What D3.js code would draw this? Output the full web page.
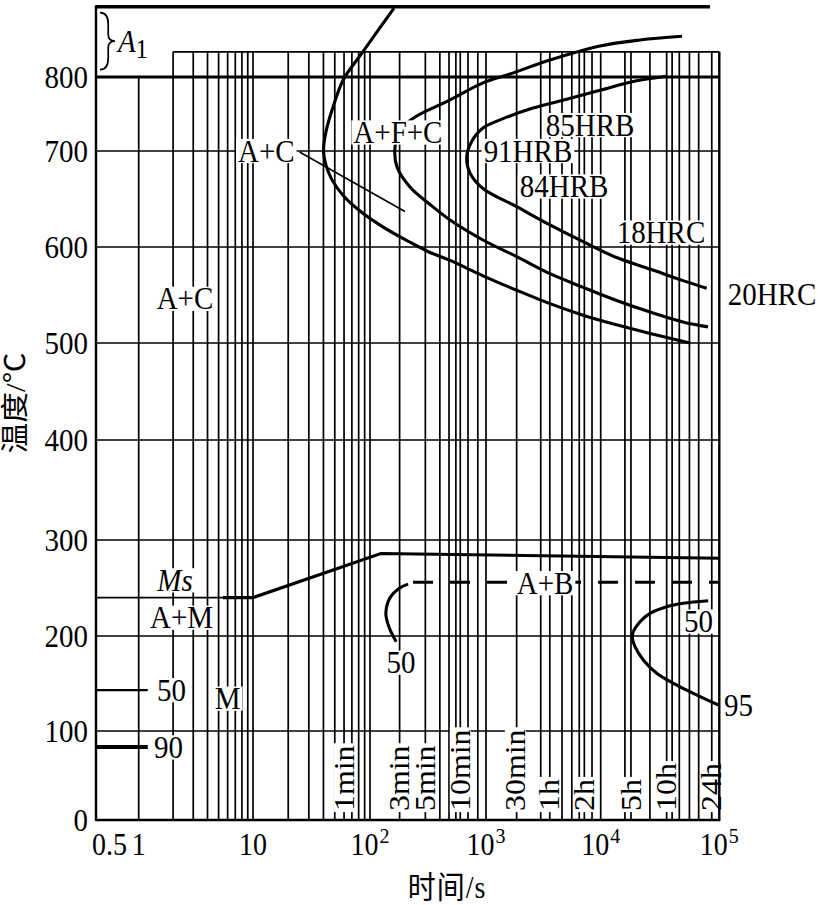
<!DOCTYPE html>
<html><head><meta charset="utf-8">
<script src="https://cdn.jsdelivr.net/npm/d3@7"></script>
<style>
body{margin:0;background:#fff;}
svg{display:block;}
text{font-family:"Liberation Serif","Times New Roman","Noto Sans CJK SC",serif;fill:#000;}
</style>
</head><body>
<svg id="chart" width="818" height="905"></svg>
<script>
// ---------------- DATA ----------------
const tempTicks = [0, 100, 200, 300, 400, 500, 600, 700, 800];
const gridTemps = [100, 200, 300, 400, 500, 600, 700];
const a1Temp = 800, upperTemp = 895, gridTopTemp = 834;
const timeTickValues = [0.5, 1, 10, 100, 1000, 10000, 100000];
const timeTickBase   = ["0.5", "1", "10", "10", "10", "10", "10"];
const timeTickExp    = ["", "", "", "2", "3", "4", "5"];
const gridTimes = [2,3,4,5,6,7,8,9, 10,20,30,40,50,60,70,80,90,
  100,180,300,400,480,550,600,700,850,
  1000,1850,3000,3600,4600,5600,6500,7200,8400,
  10000,16000,18000,26000,36000,40000,46000,56000,67000,86400];
const timeMarkLabels  = ["1min","3min","5min","10min","30min","1h","2h","5h","10h","24h"];
const timeMarkSeconds = [60, 180, 300, 600, 1800, 3600, 7200, 18000, 36000, 86400];

// curves: [time s, temperature °C]
const pearliteStart = [[161,893],[85,832],[59,796],[47.3,755],[43.4,735],[40.8,715],[40.1,699],[42.1,685],[47.3,670],[58.7,654],[82.2,637.5],[129,621],[221,605],[329,594.3],[490,586],[942,570],[1850,555],[3610,541],[7020,529],[13600,519],[26100,510],[56600,500]];
const ferriteCurve  = [[48500,855],[21400,850],[9860,842],[3610,823],[1620,804],[942,792],[490,769],[239,745],[181,728],[164,704],[171,683.3],[221,662.5],[329,644.3],[490,628.1],[942,607.3],[1850,590],[3610,572.2],[7020,558],[13600,544.3],[26100,532.3],[49400,522],[80400,516.8]];
const pearliteFinish = [[36000,801],[18700,794],[9860,782],[5050,770],[2570,758],[1325,742],[942,731],[753,713],[682,694],[728,677],[942,661],[1850,642],[3610,623],[7020,605.5],[13600,589],[26100,577],[49400,565],[78300,557]];
const bainiteLeft   = [[168,194],[146,209],[137,224],[149,240],[181,250],[213,254]];
const bainiteDashed = [[235,256],[100000,256]];
const bainiteRight  = [[80700,236.8],[49700,234.1],[36000,230.5],[26040,223.6],[21450,214.9],[18830,204.5],[18470,198.6],[19460,188.7],[22870,174.7],[29670,160.7],[40940,150.2],[60370,139.7],[98100,127.4]];
const msThin = [[0.43,240],[10,240]];
const msLine = [[5.46,240],[10,240],[124,286],[100000,281]];
const m50Line = [[0.43,143],[1.2,143]];
const m90Line = [[0.43,82],[1.2,82]];
const leaderLine = [[25,699],[200,637]];
const upperLine = [[0.43,895],[83500,895]];

const labelTexts = ["A+C","A+F+C","85HRB","91HRB","84HRB","18HRC","20HRC","A+C","A+M","50","90","M","50","A+B","50","95"];
const labelTimes = [13,174,8070,2320,4790,32200,278000,2.54,2.37,1.94,1.82,6,185,3270,66800,145000];
const labelTemps = [700,725,735,700,663,615,551,546,219,143,81.5,134,172,255,215,127];

// ---------------- SCALES ----------------
const x = d3.scaleLog()
  .domain([0.43, 1, 10, 100, 1000, 10000, 100000])
  .range([96, 138.7, 253, 370, 486, 600.7, 719.3]);
const y = d3.scaleLinear()
  .domain([0, 100, 200, 300, 400, 500, 600, 700, 800])
  .range([820, 731, 636, 540, 440, 343, 247, 151, 77]);

const svg = d3.select("#chart");
svg.append("rect").attr("width",818).attr("height",905).attr("fill","#fff");
const FS = 29, SY = 1.1;
const line = d3.line().x(d => x(d[0])).y(d => y(d[1]));
const smooth = d3.line().x(d => x(d[0])).y(d => y(d[1])).curve(d3.curveCatmullRom.alpha(0.5));

// ---------------- GRID ----------------
const grid = svg.append("g").attr("stroke","#000").attr("stroke-width",1.7);
grid.selectAll("line.h").data(gridTemps).join("line")
  .attr("x1", x(0.43)).attr("x2", x(100000))
  .attr("y1", d => y(d)).attr("y2", d => y(d));
grid.append("line").attr("x1", x(1)).attr("x2", x(1)).attr("y1", y(0)).attr("y2", y(a1Temp));
grid.selectAll("line.v").data(gridTimes).join("line")
  .attr("x1", d => x(d)).attr("x2", d => x(d))
  .attr("y1", y(0)).attr("y2", y(gridTopTemp));
grid.append("line").attr("x1", x(2)).attr("x2", x(100000))
  .attr("y1", y(gridTopTemp)).attr("y2", y(gridTopTemp));

// ---------------- CURVES ----------------
const curves = svg.append("g").attr("fill","none").attr("stroke","#000").attr("stroke-linecap","butt");
curves.append("path").attr("d", line(upperLine)).attr("stroke-width",3.5);
curves.append("line").attr("x1", x(0.43)).attr("x2", x(100000))
  .attr("y1", y(a1Temp)).attr("y2", y(a1Temp)).attr("stroke-width",3.2);
[pearliteStart, ferriteCurve, pearliteFinish, bainiteLeft, bainiteRight].forEach(c =>
  curves.append("path").attr("d", smooth(c)).attr("stroke-width",3.1));
curves.append("path").attr("d", line(bainiteDashed)).attr("stroke-width",3).attr("stroke-dasharray","20,17");
curves.append("path").attr("d", line(msThin)).attr("stroke-width",1.7);
curves.append("path").attr("d", line(msLine)).attr("stroke-width",3.1);
curves.append("path").attr("d", line(m50Line)).attr("stroke-width",2.4);
curves.append("path").attr("d", line(m90Line)).attr("stroke-width",4);
curves.append("path").attr("d", line(leaderLine)).attr("stroke-width",1.6);

// A1 brace
const by1 = y(887), by2 = y(810), bx = x(0.465), bw = 15, bh = by2 - by1, bm = (by1 + by2) / 2;
curves.append("path").attr("stroke-width",1.7).attr("d",
  `M${bx},${by1} Q${bx+bw*0.55},${by1} ${bx+bw*0.55},${by1+bh*0.2} L${bx+bw*0.55},${bm-bh*0.12} Q${bx+bw*0.55},${bm} ${bx+bw},${bm} Q${bx+bw*0.55},${bm} ${bx+bw*0.55},${bm+bh*0.12} L${bx+bw*0.55},${by2-bh*0.2} Q${bx+bw*0.55},${by2} ${bx},${by2}`);
const a1 = svg.append("text").attr("transform", `translate(${bx+bw+3},${bm+11}) scale(1,${SY})`).attr("font-size",FS);
a1.append("tspan").attr("font-style","italic").text("A");
a1.append("tspan").attr("font-size",24).attr("dy",5).text("1");

// ---------------- LABELS ----------------
function boxedLabel(g, text, cx, cy, italic) {
  const grp = g.append("g").attr("transform", `translate(${cx},${cy}) scale(1,${SY})`);
  const r = grp.append("rect").attr("fill","#fff");
  const t = grp.append("text").attr("text-anchor","middle").attr("y", 0.33*FS).attr("font-size",FS).text(text);
  if (italic) t.attr("font-style","italic");
  const w = t.node().getComputedTextLength();
  r.attr("x", -w/2 - 2).attr("y", -0.38*FS).attr("width", w + 4).attr("height", 0.76*FS);
}
const lab = svg.append("g");
labelTexts.forEach((s, i) => boxedLabel(lab, s, x(labelTimes[i]), y(labelTemps[i]), false));
boxedLabel(lab, "Ms", x(2.08), y(258), true);

// time marks (rotated)
timeMarkLabels.forEach((s, i) => {
  const grp = lab.append("g").attr("transform", `translate(${x(timeMarkSeconds[i])},${y(0)-9}) scale(1,${SY}) rotate(-90)`);
  const r = grp.append("rect").attr("fill","#fff");
  const t = grp.append("text").attr("x",0).attr("y",0.33*FS).attr("font-size",FS).text(s);
  const w = t.node().getComputedTextLength();
  r.attr("x",-1).attr("y",-0.36*FS).attr("width", w + 3).attr("height",0.72*FS);
});

// ---------------- FRAME ----------------
const frame = svg.append("g").attr("stroke","#000").attr("stroke-width",2.4);
frame.append("line").attr("x1", x(0.43)).attr("x2", x(0.43)).attr("y1", y(0)+1).attr("y2", y(upperTemp)-1.5);
frame.append("line").attr("x1", x(0.43)).attr("x2", x(100000)+1).attr("y1", y(0)).attr("y2", y(0));
frame.append("line").attr("x1", x(100000)).attr("x2", x(100000)).attr("y1", y(0)).attr("y2", y(gridTopTemp));

// ---------------- AXIS TEXT ----------------
const ax = svg.append("g").attr("font-size",FS);
tempTicks.forEach(v => {
  ax.append("text").attr("text-anchor","end")
    .attr("transform", `translate(88,${y(v) + 0.33*FS*SY}) scale(1,${SY})`).text(v);
});
timeTickValues.forEach((v, i) => {
  const first = i === 0;
  const px = first ? x(0.43) - 4 : x(v);
  const t = ax.append("text").attr("text-anchor", first ? "start" : "middle")
    .attr("font-size",28)
    .attr("transform", `translate(${px},${y(0)+35}) scale(1,${SY})`);
  t.append("tspan").text(timeTickBase[i]);
  if (timeTickExp[i]) t.append("tspan").attr("font-size",20).attr("dy",-11).attr("dx",1).text(timeTickExp[i]);
});
// axis titles
svg.append("text").attr("text-anchor","middle").attr("font-size",28)
  .attr("transform", `translate(447,898) scale(1,${SY})`)
  .attr("letter-spacing",1).text("时间/s");
svg.append("text").attr("text-anchor","middle").attr("font-size",28)
  .attr("transform", `translate(25,403) scale(1,${SY}) rotate(-90)`)
  .text("温度/℃");
</script>
</body></html>
